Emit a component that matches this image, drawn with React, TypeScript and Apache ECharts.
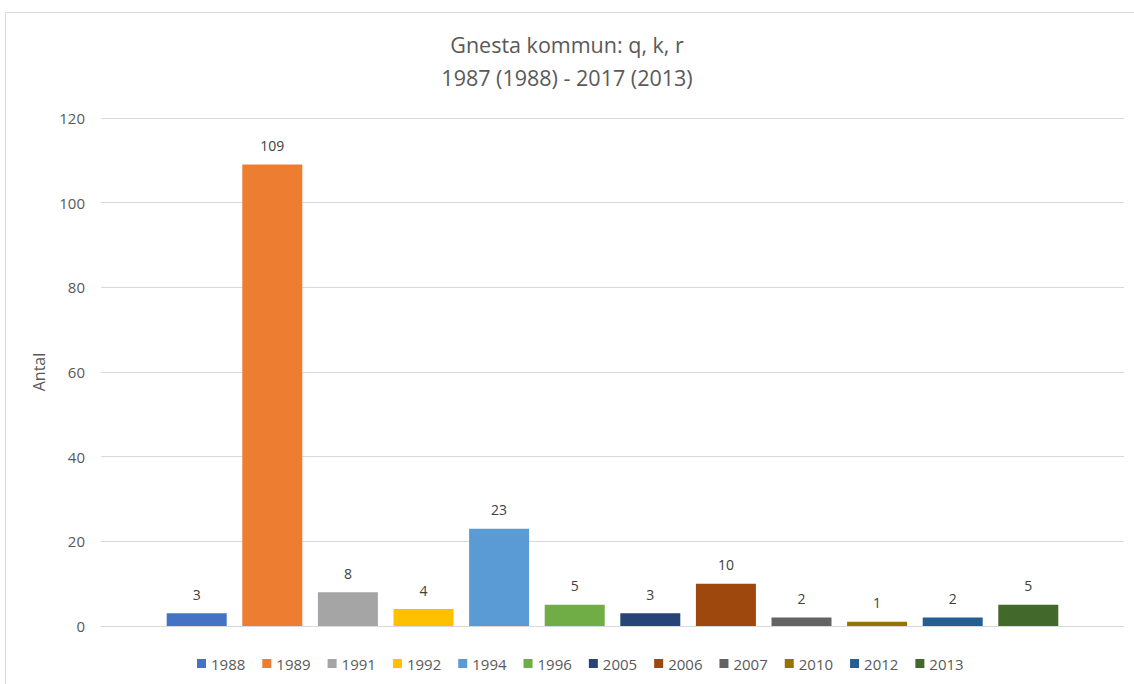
import React, { useEffect, useRef } from "react";
import * as echarts from "echarts";

const years = ["1988", "1989", "1991", "1992", "1994", "1996", "2005", "2006", "2007", "2010", "2012", "2013"];
const counts = [3, 109, 8, 4, 23, 5, 3, 10, 2, 1, 2, 5];
const colors = ["#4472C4", "#ED7D31", "#A5A5A5", "#FFC000", "#5B9BD5", "#70AD47", "#264478", "#9E480E", "#636363", "#997300", "#255E91", "#43682B"];
const titleText = "Gnesta kommun: q, k, r\n1987 (1988) - 2017 (2013)";
const yAxisName = "Antal";

const FONT = "'Open Sans', 'Noto Sans', sans-serif";

export default function App() {
  const ref = useRef<HTMLDivElement>(null);
  useEffect(() => {
    if (!ref.current) return;
    const chart = echarts.init(ref.current, null, { renderer: "svg" });
    chart.setOption({
      animation: false,
      backgroundColor: "#ffffff",
      textStyle: { fontFamily: FONT },
      title: {
        text: titleText,
        left: "center",
        top: 23,
        textStyle: { fontFamily: FONT, fontSize: 21.5, fontWeight: "normal", color: "#595959", lineHeight: 33 },
      },
      graphic: [
        {
          type: "rect",
          shape: { x: 5.5, y: 12.5, width: 1200, height: 700 },
          style: { fill: "none", stroke: "#d9d9d9", lineWidth: 1 },
          silent: true,
          z: -1,
        },
      ],
      legend: {
        left: 192,
        top: 651,
        icon: "rect",
        itemWidth: 9,
        itemHeight: 9,
        itemGap: 17,
        textStyle: { fontFamily: FONT, fontSize: 15, color: "#595959", padding: [0, 0, 0, 0] },
        data: years,
      },
      grid: { left: 101, right: 10, top: 118, bottom: 58 },
      xAxis: {
        type: "category",
        data: [""],
        axisLine: { show: true, lineStyle: { color: "#d9d9d9", width: 1 } },
        axisTick: { show: false },
        axisLabel: { show: false },
      },
      yAxis: {
        type: "value",
        min: 0,
        max: 120,
        interval: 20,
        name: yAxisName,
        nameLocation: "middle",
        nameRotate: 90,
        nameGap: 54,
        nameTextStyle: { fontFamily: FONT, fontSize: 16, color: "#595959" },
        axisLine: { show: false },
        axisTick: { show: false },
        axisLabel: { fontFamily: FONT, fontSize: 15, color: "#595959", margin: 16 },
        splitLine: { lineStyle: { color: "#d9d9d9", width: 1 } },
      },
      series: years.map((y, i) => ({
        name: y,
        type: "bar",
        data: [counts[i]],
        barWidth: 60,
        barGap: "26%",
        itemStyle: { color: colors[i] },
        label: {
          show: true,
          position: "top",
          distance: 12,
          fontFamily: FONT,
          fontSize: 14,
          color: "#404040",
        },
      })),
    });
    return () => chart.dispose();
  }, []);
  return <div ref={ref} style={{ position: "fixed", left: 0, top: 0, width: 1134, height: 684 }} />;
}
